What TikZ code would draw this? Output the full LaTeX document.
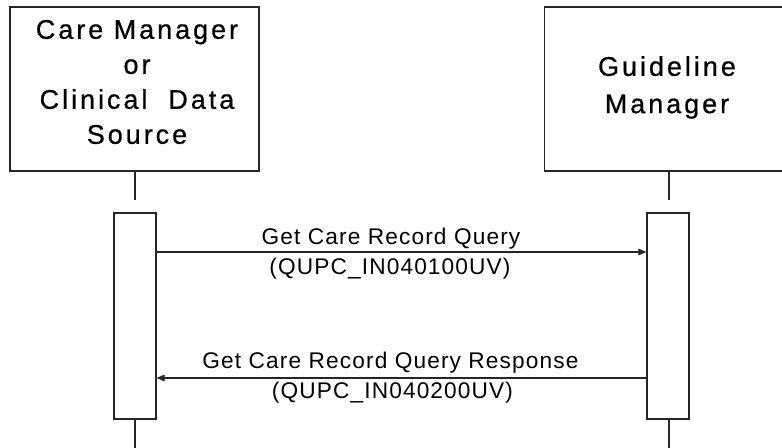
\documentclass[tikz,border=0pt]{standalone}
\usepackage{fontspec}
\setmainfont{Liberation Sans}
\newfontfamily\headfont[LetterSpace=11,FakeBold=0.6]{Liberation Sans}
\newfontfamily\msgfont[LetterSpace=5]{Liberation Sans}
\usetikzlibrary{arrows.meta}
\begin{document}
\begin{tikzpicture}[x=0.75pt,y=-0.75pt,
  actor/.style={draw=black!85,line width=1.1pt,minimum width=249*0.75pt,minimum height=164*0.75pt,inner sep=0pt},
  headtext/.style={align=center,inner sep=0pt,font=\headfont\fontsize{20.25}{26.25}\selectfont},
  activation/.style={draw=black!85,line width=0.9pt,fill=white,minimum width=42*0.75pt,minimum height=206*0.75pt,inner sep=0pt},
  lifeline/.style={draw=black!85,line width=0.8pt},
  msgarrow/.style={draw=black!85,line width=0.8pt,-{Triangle[length=6pt,width=5pt]}},
  msgtext/.style={inner sep=0pt,anchor=base,font=\msgfont\fontsize{17}{18}\selectfont}]
  \useasboundingbox (0,0) rectangle (782,448);
  \clip (0,0) rectangle (782,448);
  \fill[white] (0,0) rectangle (782,448);

  % participants
  \node[actor] (cm) at (134.5,89) {};
  \node[headtext] (cmtext) at (137,82) {Care Manager\\or\\Clinical~ Data\\Source};
  \node[actor] (gm) at (669,89) {};
  \node[headtext,font=\headfont\fontsize{20.25}{28}\selectfont] (gmtext) at (667,87.5) {Guideline\\Manager};

  % activation bars
  \node[activation] (actL) at (135,316) {};
  \node[activation] (actR) at (668,316) {};

  % lifelines
  \coordinate (lgapL) at (135,200);
  \coordinate (lgapR) at (669,200);
  \coordinate (lendL) at (135,448);
  \coordinate (lendR) at (669,448);
  \draw[lifeline] (cm.south -| lgapL) -- (lgapL);
  \draw[lifeline] (gm.south -| lgapR) -- (lgapR);
  \draw[lifeline] (actL.south -| lendL) -- (lendL);
  \draw[lifeline] (actR.south -| lendR) -- (lendR);

  % messages
  \coordinate (m1) at (0,252);
  \coordinate (m2) at (0,378);
  \draw[msgarrow] (actL.east |- m1) -- (actR.west |- m1);
  \draw[msgarrow] (actR.west |- m2) -- (actL.east |- m2);

  \node[msgtext] (q1a) at (391,245) {Get Care Record Query};
  \node[msgtext] (q1b) at (390,275) {(QUPC\_IN040100UV)};
  \node[msgtext] (q2a) at (390.5,369) {Get Care Record Query Response};
  \node[msgtext] (q2b) at (392.5,399) {(QUPC\_IN040200UV)};
\end{tikzpicture}
\end{document}
